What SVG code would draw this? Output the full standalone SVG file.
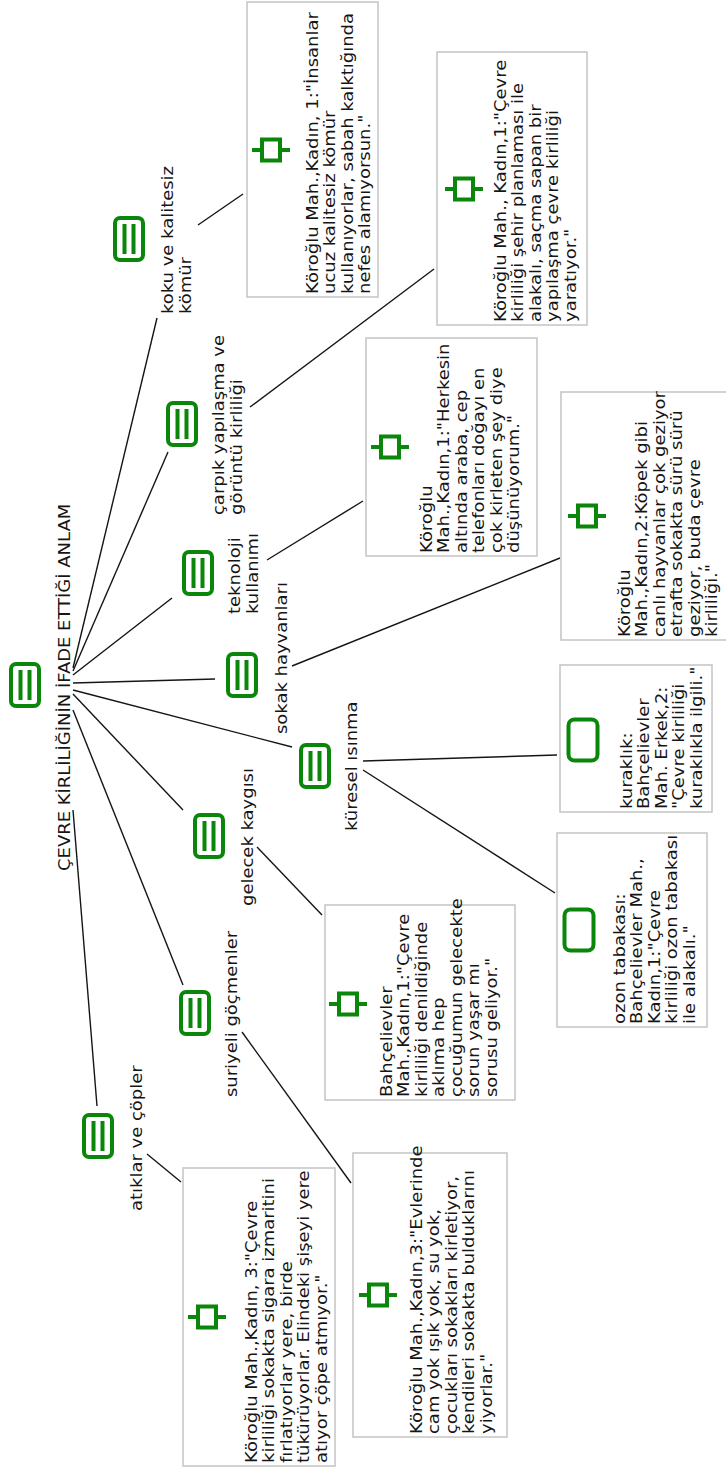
<svg xmlns="http://www.w3.org/2000/svg" width="726" height="1471" viewBox="0 0 726 1471">
<style>
.t{font-family:"DejaVu Sans",Verdana,sans-serif;font-size:15.5px;fill:#151515}
.box{fill:#fff;stroke:#c4c4c4;stroke-width:1.5}
.ln{stroke:#151515;stroke-width:1.4;fill:none}
.g{stroke:#0a860a;stroke-width:4;fill:#fff}
.gb{stroke:#0a860a;stroke-width:4;fill:none}
</style>
<defs>
<g id="nic"><rect class="g" x="-14" y="-21" width="28" height="42" rx="5"/><path class="gb" d="M-4.5 -15V15M4.5 -15V15"/></g>
<g id="leaf"><rect class="g" x="-9" y="-10.5" width="18" height="21"/><path class="gb" d="M-19 0H-11M11 0H19"/></g>
<g id="emp"><rect class="g" x="-14.5" y="-20.5" width="29" height="41" rx="6"/></g>
</defs>
<rect width="726" height="1471" fill="#fff"/>
<g id="connectors">
<path class="ln" d="M73 668L157 318"/>
<path class="ln" d="M73 671L168 452"/>
<path class="ln" d="M73 675L172 598"/>
<path class="ln" d="M73 683L215 679"/>
<path class="ln" d="M73 690L292 747"/>
<path class="ln" d="M73 694L183 810"/>
<path class="ln" d="M73 710L183 985"/>
<path class="ln" d="M73 810L97 1106"/>
<path class="ln" d="M198 225L243 194"/>
<path class="ln" d="M250 407L434 269"/>
<path class="ln" d="M267 560L363 501"/>
<path class="ln" d="M292 666L560 558"/>
<path class="ln" d="M363 761L557 755"/>
<path class="ln" d="M363 770L555 893"/>
<path class="ln" d="M257 847L322 915"/>
<path class="ln" d="M242 1032L351 1183"/>
<path class="ln" d="M147 1154L181 1182"/>
</g>
<g id="root">
<use href="#nic" x="25" y="685"/>
<text class="t" transform="translate(70 871) rotate(-90) scale(1.16 1)">ÇEVRE KİRLİLİĞİNİN İFADE ETTİĞİ ANLAM</text>
</g>
<g id="n-koku">
<use href="#nic" x="129" y="239"/>
<text class="t" transform="translate(173 314) rotate(-90) scale(1.16 1)"><tspan x="0">koku ve kalitesiz</tspan><tspan x="0" dy="18">kömür</tspan></text>
</g>
<g id="n-carpik">
<use href="#nic" x="182" y="424"/>
<text class="t" transform="translate(224 515) rotate(-90) scale(1.16 1)"><tspan x="0">çarpık yapılaşma ve</tspan><tspan x="0" dy="18">görüntü kirliliği</tspan></text>
</g>
<g id="n-teknoloji">
<use href="#nic" x="198" y="573"/>
<text class="t" transform="translate(240 614) rotate(-90) scale(1.16 1)"><tspan x="0">teknoloji</tspan><tspan x="0" dy="18">kullanımı</tspan></text>
</g>
<g id="n-sokak">
<use href="#nic" x="242" y="675"/>
<text class="t" transform="translate(287 734) rotate(-90) scale(1.16 1)">sokak hayvanları</text>
</g>
<g id="n-kuresel">
<use href="#nic" x="315" y="766"/>
<text class="t" transform="translate(357 831) rotate(-90) scale(1.16 1)">küresel ısınma</text>
</g>
<g id="n-gelecek">
<use href="#nic" x="209" y="836"/>
<text class="t" transform="translate(253 906) rotate(-90) scale(1.16 1)">gelecek kaygısı</text>
</g>
<g id="n-suriyeli">
<use href="#nic" x="195" y="1013"/>
<text class="t" transform="translate(237 1097) rotate(-90) scale(1.16 1)">suriyeli göçmenler</text>
</g>
<g id="n-atiklar">
<use href="#nic" x="98" y="1136"/>
<text class="t" transform="translate(142 1211) rotate(-90) scale(1.16 1)">atıklar ve çöpler</text>
</g>
<g id="b1">
<rect class="box" x="247" y="2" width="131" height="295"/>
<use href="#leaf" x="271" y="150"/>
<text class="t" transform="translate(318 294) rotate(-90) scale(1.16 1)"><tspan x="0">Köroğlu Mah.,Kadın, 1:"İnsanlar</tspan><tspan x="0" dy="17.5">ucuz kalitesiz kömür</tspan><tspan x="0" dy="17.5">kullanıyorlar, sabah kalktığında</tspan><tspan x="0" dy="17.5">nefes alamıyorsun."</tspan></text>
</g>
<g id="b2">
<rect class="box" x="437" y="52" width="150" height="273"/>
<use href="#leaf" x="464" y="189"/>
<text class="t" transform="translate(506 322) rotate(-90) scale(1.16 1)"><tspan x="0">Köroğlu Mah., Kadın,1:"Çevre</tspan><tspan x="0" dy="17.5">kirliliği şehir planlaması ile</tspan><tspan x="0" dy="17.5">alakalı, saçma sapan bir</tspan><tspan x="0" dy="17.5">yapılaşma çevre kirliliği</tspan><tspan x="0" dy="17.5">yaratıyor."</tspan></text>
</g>
<g id="b3">
<rect class="box" x="366" y="338" width="171" height="218"/>
<use href="#leaf" x="390" y="447"/>
<text class="t" transform="translate(432 553) rotate(-90) scale(1.16 1)"><tspan x="0">Köroğlu</tspan><tspan x="0" dy="17.5">Mah.,Kadın,1:"Herkesin</tspan><tspan x="0" dy="17.5">altında araba, cep</tspan><tspan x="0" dy="17.5">telefonları doğayı en</tspan><tspan x="0" dy="17.5">çok kirleten şey diye</tspan><tspan x="0" dy="17.5">düşünüyorum."</tspan></text>
</g>
<g id="b4">
<rect class="box" x="561" y="392" width="170" height="248"/>
<use href="#leaf" x="587" y="516"/>
<text class="t" transform="translate(630 637) rotate(-90) scale(1.16 1)"><tspan x="0">Köroğlu</tspan><tspan x="0" dy="17.5">Mah.,Kadın,2:Köpek gibi</tspan><tspan x="0" dy="17.5">canlı hayvanlar çok geziyor</tspan><tspan x="0" dy="17.5">etrafta sokakta sürü sürü</tspan><tspan x="0" dy="17.5">geziyor, buda çevre</tspan><tspan x="0" dy="17.5">kirliliği."</tspan></text>
</g>
<g id="b5">
<rect class="box" x="560" y="665" width="152" height="147"/>
<use href="#emp" x="583" y="740"/>
<text class="t" transform="translate(632 809) rotate(-90) scale(1.16 1)"><tspan x="0">kuraklık:</tspan><tspan x="0" dy="17.5">Bahçelievler</tspan><tspan x="0" dy="17.5">Mah. Erkek,2:</tspan><tspan x="0" dy="17.5">"Çevre kirliliği</tspan><tspan x="0" dy="17.5">kuraklıkla ilgili."</tspan></text>
</g>
<g id="b6">
<rect class="box" x="557" y="833" width="150" height="194"/>
<use href="#emp" x="579" y="930"/>
<text class="t" transform="translate(625 1024) rotate(-90) scale(1.16 1)"><tspan x="0">ozon tabakası:</tspan><tspan x="0" dy="17.5">Bahçelievler Mah.,</tspan><tspan x="0" dy="17.5">Kadın,1:"Çevre</tspan><tspan x="0" dy="17.5">kirliliği ozon tabakası</tspan><tspan x="0" dy="17.5">ile alakalı."</tspan></text>
</g>
<g id="b7">
<rect class="box" x="325" y="905" width="190" height="195"/>
<use href="#leaf" x="348" y="1004"/>
<text class="t" transform="translate(392 1097) rotate(-90) scale(1.16 1)"><tspan x="0">Bahçelievler</tspan><tspan x="0" dy="17.5">Mah.,Kadın,1:"Çevre</tspan><tspan x="0" dy="17.5">kirliliği denildiğinde</tspan><tspan x="0" dy="17.5">aklıma hep</tspan><tspan x="0" dy="17.5">çocuğumun gelecekte</tspan><tspan x="0" dy="17.5">sorun yaşar mı</tspan><tspan x="0" dy="17.5">sorusu geliyor."</tspan></text>
</g>
<g id="b8">
<rect class="box" x="183" y="1168" width="152" height="298"/>
<use href="#leaf" x="207" y="1317"/>
<text class="t" transform="translate(257 1463) rotate(-90) scale(1.16 1)"><tspan x="0">Köroğlu Mah.,Kadın, 3:"Çevre</tspan><tspan x="0" dy="17.5">kirliliği sokakta sigara izmaritini</tspan><tspan x="0" dy="17.5">fırlatıyorlar yere, birde</tspan><tspan x="0" dy="17.5">tükürüyorlar. Elindeki şişeyi yere</tspan><tspan x="0" dy="17.5">atıyor çöpe atmıyor."</tspan></text>
</g>
<g id="b9">
<rect class="box" x="353" y="1153" width="154" height="284"/>
<use href="#leaf" x="378" y="1295"/>
<text class="t" transform="translate(422 1434) rotate(-90) scale(1.16 1)"><tspan x="0">Köroğlu Mah.,Kadın,3:"Evlerinde</tspan><tspan x="0" dy="17.5">cam yok ışık yok, su yok,</tspan><tspan x="0" dy="17.5">çocukları sokakları kirletiyor,</tspan><tspan x="0" dy="17.5">kendileri sokakta bulduklarını</tspan><tspan x="0" dy="17.5">yiyorlar."</tspan></text>
</g>
</svg>
